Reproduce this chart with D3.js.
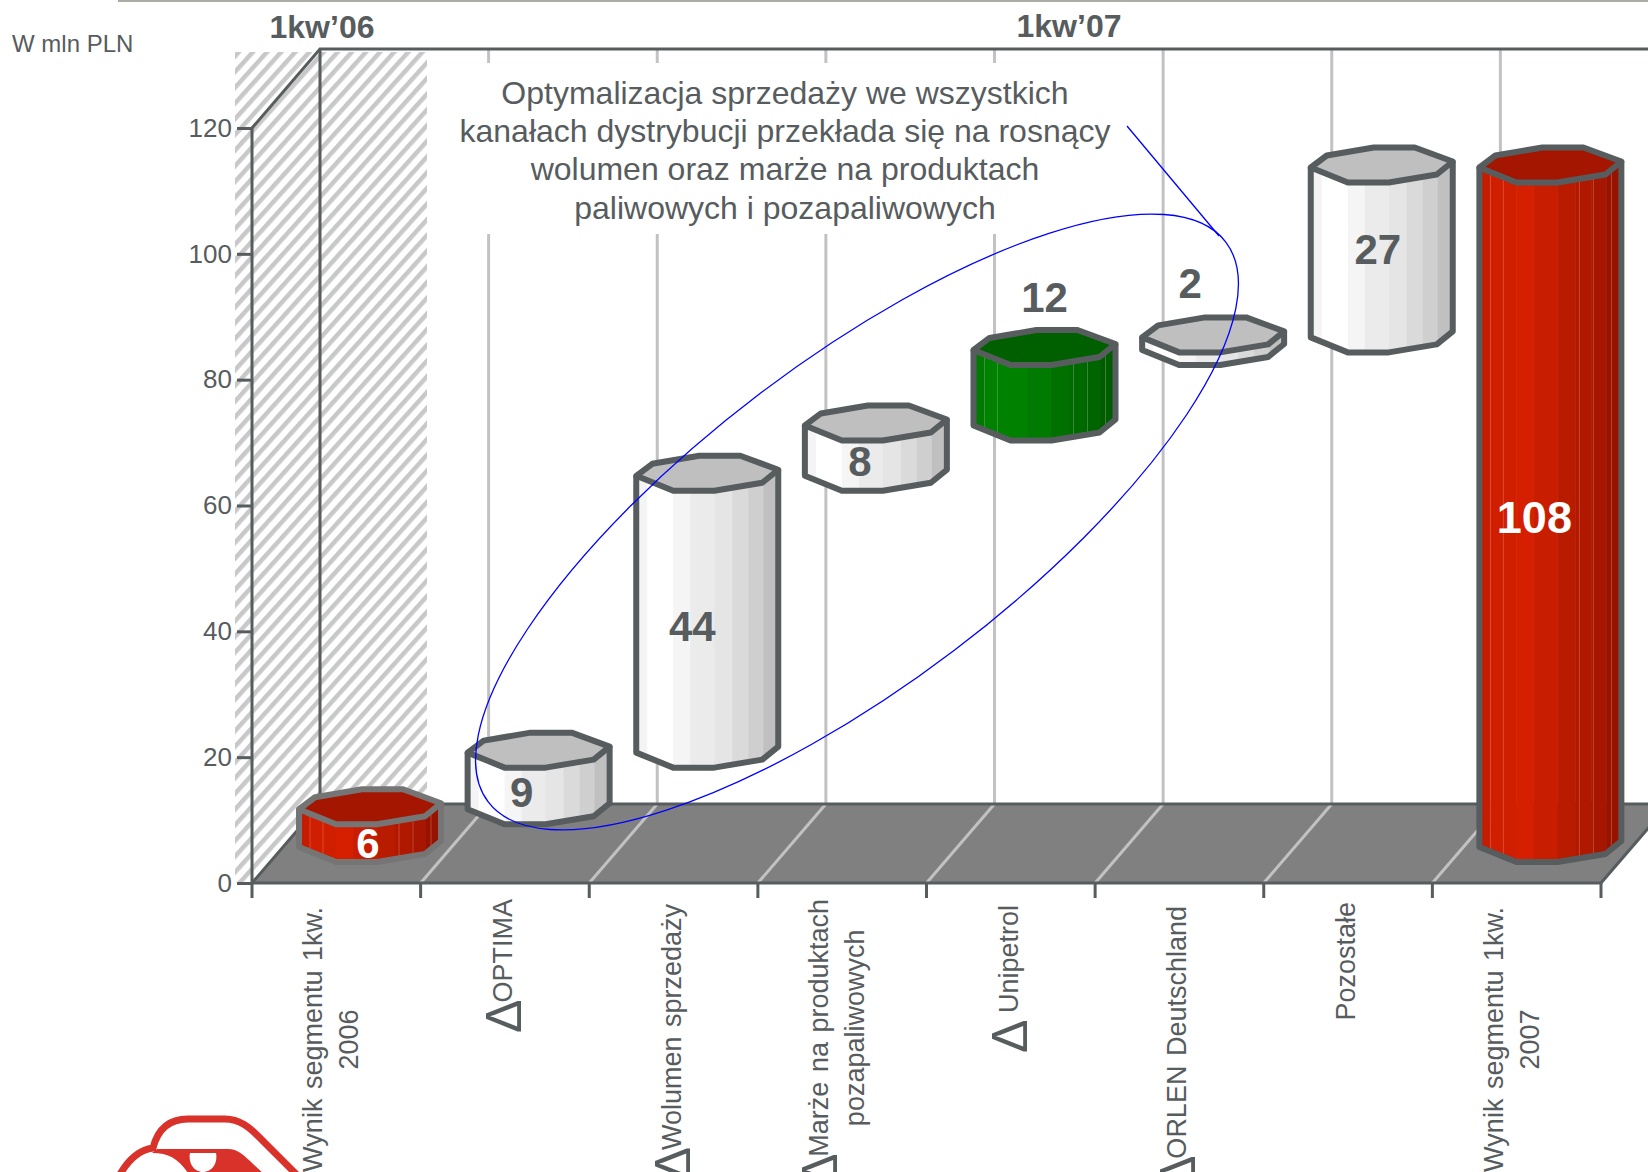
<!DOCTYPE html>
<html>
<head>
<meta charset="utf-8">
<script src="https://cdn.jsdelivr.net/npm/d3@7"></script>
<style>
html, body { margin: 0; padding: 0; background: #fff; overflow: hidden; }
svg { display: block; }
text { font-family: "Liberation Sans", Arial, sans-serif; fill: #575c5e; }
</style>
</head>
<body>
<script>
// data
const categories = [
    ["Wynik segmentu 1kw.", "2006"],
    ["ΔOPTIMA"],
    ["ΔWolumen sprzedaży"],
    ["ΔMarże na produktach", "pozapaliwowych"],
    ["Δ Unipetrol"],
    ["ΔORLEN Deutschland"],
    ["Pozostałe"],
    ["Wynik segmentu 1kw.", "2007"]
];
const values = [6, 9, 44, 8, 12, 2, 27, 108];
const starts = [0, 6, 15, 59, 67, 79, 81, 0];
const kinds = ["red", "white", "white", "white", "green", "white", "white", "red"];
const yTicks = [0, 20, 40, 60, 80, 100, 120];
const noteLines = [
    "Optymalizacja sprzedaży we wszystkich",
    "kanałach dystrybucji przekłada się na rosnący",
    "wolumen oraz marże na produktach",
    "paliwowych i pozapaliwowych"
];

const w = 1648, h = 1172;
const dark = "#575c5e", grid = "#c2c2c2";
const depthX = 68, depthY = 79; // 3d offset of the back wall

// label nudges, the original places them by hand
const labelDx = [-1, -16, -14, -15, 1, -22, -3, -15];
const labelDy = [-21, -25, -24, -25, -126, -96, -39, -26];
const labelTops = [907, 899, 904, 899, 905, 906, 902, 907];

// the cylinders are really octagons
const barW = 142;
const topShape = [[0, 0], [16, -12], [63, -20], [104, -20], [142, -6], [126, 7], [78, 15], [37, 15]];
const lowerEdge = d3.scaleLinear().domain([0, 37, 78, 126, 142]).range([0, 15, 15, 7, -6]);
const stripX = [0, 11, 37, 54, 78, 96, 112, 127, 142];
const palette = {
    white: { top: "#bfbfbf", sides: ["#f4f4f4", "#ffffff", "#f5f5f5", "#ebebeb", "#e5e5e5", "#dadada", "#cfcfcf", "#c0c0c0"], glint: null },
    red: { top: "#a41600", sides: ["#c41c00", "#cf1e00", "#d61e00", "#c91d00", "#b91b00", "#b01900", "#a61600", "#961300"], glint: "#ef7a62" },
    green: { top: "#006000", sides: ["#007a00", "#008200", "#008200", "#007a00", "#007000", "#006a00", "#006400", "#005c00"], glint: "#6fb06f" }
};

const svg = d3.select("body").append("svg").attr("width", w).attr("height", h);

const x = d3.scaleLinear().domain([0, 8]).range([252, 1601]);
const y = d3.scaleLinear().domain([0, 120]).range([883, 128]);

const pat = svg.append("defs").append("pattern")
    .attr("id", "hatch").attr("patternUnits", "userSpaceOnUse")
    .attr("width", 10.5).attr("height", 10.5).attr("patternTransform", "rotate(42)");
pat.append("rect").attr("width", 4.5).attr("height", 10.5).attr("fill", "#c8c8c8");

// top page rule
svg.append("rect").attr("x", 118).attr("y", 0).attr("width", w - 118).attr("height", 2).attr("fill", "#aaaca5");

// hatched first period
svg.append("rect").attr("x", 235).attr("y", 52).attr("width", 192).attr("height", 831).attr("fill", "url(#hatch)");

// back wall grid
svg.append("g").selectAll("line").data(d3.range(1, 8)).join("line")
    .attr("x1", d => x(d) + depthX).attr("x2", d => x(d) + depthX)
    .attr("y1", y(120) - depthY).attr("y2", y(0) - depthY)
    .attr("stroke", grid).attr("stroke-width", 3);

// floor
const floor = svg.append("g");
floor.append("path")
    .attr("d", d3.line()([[x(0), y(0)], [x(8), y(0)], [x(8) + depthX, y(0) - depthY], [x(0) + depthX, y(0) - depthY]]) + "Z")
    .attr("fill", "#808080");
floor.selectAll("line").data(d3.range(1, 8)).join("line")
    .attr("x1", d => x(d)).attr("x2", d => x(d) + depthX)
    .attr("y1", y(0)).attr("y2", y(0) - depthY)
    .attr("stroke", grid).attr("stroke-width", 3);

// white box under the note hides the grid
svg.append("rect").attr("x", 460).attr("y", 63).attr("width", 650).attr("height", 171).attr("fill", "#fff");

// axes and frame
const frame = svg.append("g").attr("fill", "none").attr("stroke", dark).attr("stroke-width", 3);
frame.append("path").attr("d", d3.line()([[x(0), y(120)], [x(0), y(0)], [x(8), y(0)], [x(8) + depthX, y(0) - depthY]]));
frame.append("path").attr("d", d3.line()([[x(0), y(120)], [x(0) + depthX, y(120) - depthY], [w, y(120) - depthY]]));
frame.append("path").attr("d", d3.line()([[x(0), y(0)], [x(0) + depthX, y(0) - depthY], [w, y(0) - depthY]]));
frame.append("path").attr("d", d3.line()([[x(0) + depthX, y(120) - depthY], [x(0) + depthX, y(0) - depthY]]));

const yAxis = svg.append("g").attr("transform", `translate(${x(0)},0)`)
    .call(d3.axisLeft(y).tickValues(yTicks).tickSize(15).tickPadding(5).tickSizeOuter(0));
yAxis.select(".domain").remove();
yAxis.selectAll("line").attr("stroke", dark).attr("stroke-width", 3);
yAxis.selectAll("text").attr("font-size", 26).attr("fill", dark).style("font-family", '"Liberation Sans", Arial, sans-serif');

svg.append("g").selectAll("line").data(d3.range(0, 9)).join("line")
    .attr("x1", d => x(d)).attr("x2", d => x(d))
    .attr("y1", y(0)).attr("y2", y(0) + 15)
    .attr("stroke", dark).attr("stroke-width", 3);

// bars
const bars = svg.append("g").selectAll("g").data(values).join("g")
    .attr("transform", (d, i) => `translate(${x(i) + 47},${y(0) - 36})`);

bars.each(function (d, i) {
    const g = d3.select(this);
    const c = palette[kinds[i]];
    const yTop = y(starts[i] + d) - y(0), yBot = y(starts[i]) - y(0);
    const line = i === 0 ? "#757575" : dark;

    // side strips, a bit of overlap so no seams show
    d3.pairs(stripX).forEach(([a, b], k) => {
        const b2 = Math.min(b + 0.5, barW);
        g.append("path")
            .attr("d", d3.line()([[a, yTop + lowerEdge(a)], [b2, yTop + lowerEdge(b2)], [b2, yBot + lowerEdge(b2)], [a, yBot + lowerEdge(a)]]) + "Z")
            .attr("fill", c.sides[k]);
    });
    if (c.glint) {
        [11, 24, 100, 114, 132].forEach(a => {
            g.append("line").attr("x1", a).attr("x2", a)
                .attr("y1", yTop + lowerEdge(a)).attr("y2", yBot + lowerEdge(a))
                .attr("stroke", c.glint).attr("stroke-width", 0.8).attr("opacity", 0.6);
        });
    }
    // silhouette
    const outline = [[0, yTop]]
        .concat([[0, yBot]])
        .concat(lowerEdge.domain().slice(1).map(a => [a, yBot + lowerEdge(a)]))
        .concat([[barW, yTop + lowerEdge(barW)]]);
    g.append("path").attr("d", d3.line()(outline))
        .attr("fill", "none").attr("stroke", line).attr("stroke-width", 6).attr("stroke-linejoin", "round");
    // top face
    g.append("path").attr("d", d3.line()(topShape.map(p => [p[0], p[1] + yTop])) + "Z")
        .attr("fill", c.top).attr("stroke", line).attr("stroke-width", 6).attr("stroke-linejoin", "round");
});

// value labels
svg.append("g").selectAll("text").data(values).join("text")
    .attr("x", (d, i) => x(i) + 46 + barW / 2 + labelDx[i])
    .attr("y", (d, i) => y(starts[i] + d / 2) + labelDy[i])
    .attr("dy", "0.35em")
    .attr("text-anchor", "middle").attr("font-size", d => d > 100 ? 45 : 42).attr("font-weight", "bold")
    .style("fill", (d, i) => kinds[i] === "red" ? "#fff" : dark)
    .text(d => d);

// category labels, rotated and hanging from the ticks
categories.forEach((lines, i) => {
    const cx = (x(i) + x(i + 1)) / 2;
    const first = lines.length === 1 ? 7 : -14;
    let firstLen = 0;
    lines.forEach((txt, j) => {
        const t = svg.append("text")
            .attr("transform", `translate(${cx + first + j * 36},${labelTops[i]}) rotate(-90)`)
            .attr("font-size", 27).attr("word-spacing", 2);
        if (j === 0) {
            t.attr("text-anchor", "end");
            if (txt[0] === "Δ") {
                t.append("tspan").attr("font-size", 50).attr("dy", 9).attr("word-spacing", 0).text("Δ");
                const rest = t.append("tspan").attr("dy", -9).attr("dx", -3).text(txt.slice(1));
                firstLen = rest.node().getComputedTextLength();
            } else {
                t.text(txt);
                firstLen = t.node().getComputedTextLength();
            }
        } else {
            t.attr("text-anchor", "middle").attr("x", -firstLen / 2).text(txt);
        }
    });
});

// headers
svg.append("text").attr("x", 322).attr("y", 38).attr("text-anchor", "middle")
    .attr("font-size", 32).attr("font-weight", "bold").text("1kw’06");
svg.append("text").attr("x", 1069).attr("y", 37).attr("text-anchor", "middle")
    .attr("font-size", 32).attr("font-weight", "bold").text("1kw’07");
svg.append("text").attr("x", 12).attr("y", 52).attr("font-size", 24).text("W mln PLN");

// note
svg.append("g").selectAll("text").data(noteLines).join("text")
    .attr("x", 785).attr("y", (d, i) => 104 + i * 38.2)
    .attr("text-anchor", "middle").attr("font-size", 32).text(d => d);

// blue callout
svg.append("ellipse").attr("cx", 857).attr("cy", 522).attr("rx", 463).attr("ry", 161)
    .attr("transform", "rotate(-37.2 857 522)")
    .attr("fill", "none").attr("stroke", "#0000ff").attr("stroke-width", 1.3);
svg.append("line").attr("x1", 1127).attr("y1", 126).attr("x2", 1219).attr("y2", 236)
    .attr("stroke", "#0000ff").attr("stroke-width", 1.3);

// logo, cut off by the page edge
const logo = svg.append("g").attr("fill", "none").attr("stroke", "#d8322a").attr("stroke-width", 7);
logo.append("path").attr("d", "M119,1176 C128,1160 138,1150 153,1148 C158,1128 170,1119 188,1119 L225,1119 C240,1119 250,1128 258,1136 L298,1176");
logo.append("path").attr("fill", "#d8322a").attr("stroke", "none")
    .attr("d", "M157,1149 L228,1149 C238,1149 243,1155 250,1161 L266,1176 L190,1176 C180,1160 170,1153 152,1153 Z");
logo.append("path").attr("fill", "#fff").attr("stroke", "none")
    .attr("d", "M190,1153 L216,1153 C218,1163 212,1172 203,1172 C194,1172 188,1163 190,1153 Z");
</script>
</body>
</html>
